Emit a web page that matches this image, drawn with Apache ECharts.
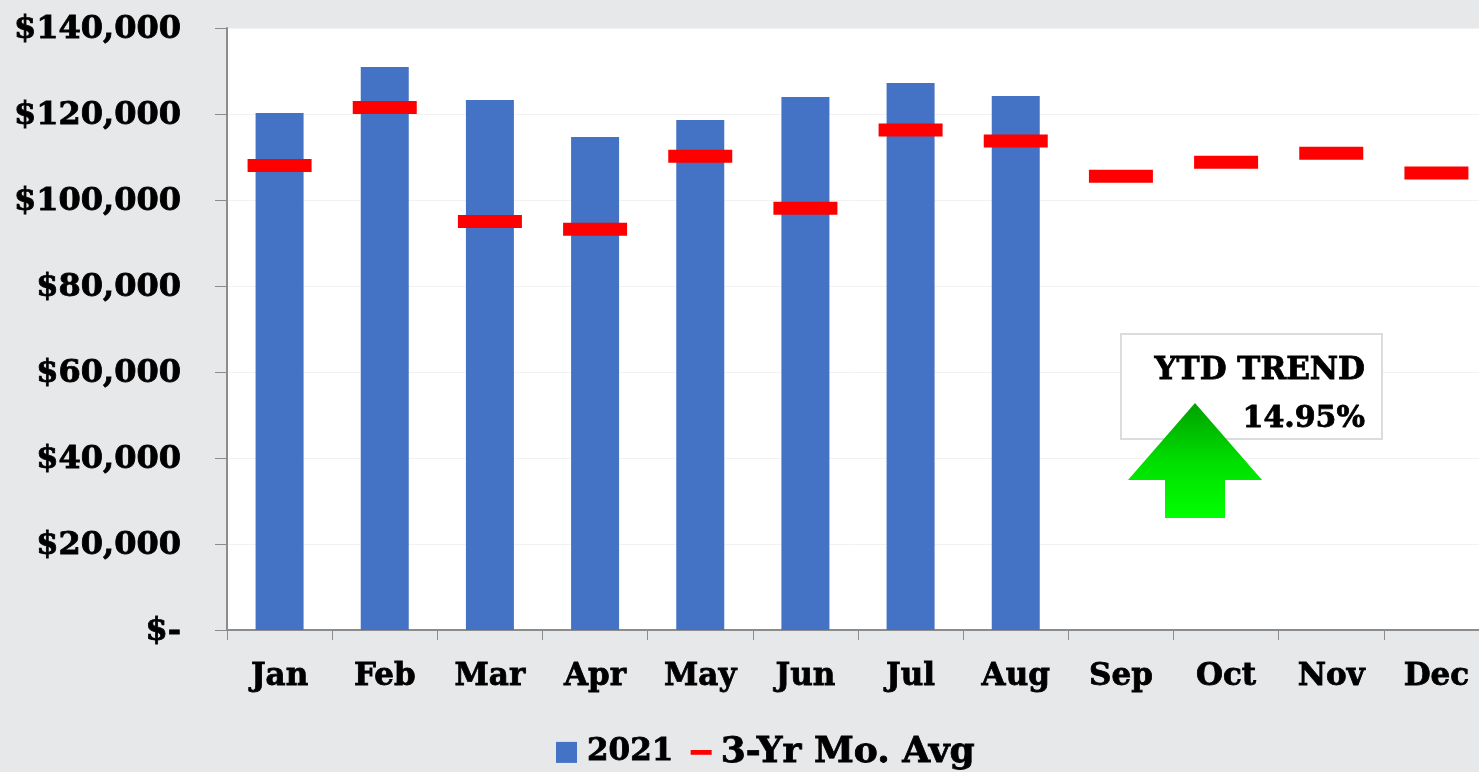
<!DOCTYPE html>
<html lang="en">
<head>
    <meta charset="UTF-8">
    <title>YTD Trend</title>
    <script src="https://cdn.jsdelivr.net/npm/echarts@6/dist/echarts.min.js"></script>
    <style>
        html, body { margin: 0; padding: 0; background: #e7e8ea; overflow: hidden; }
        #main { width: 1479px; height: 772px; }
    </style>
</head>
<body>
<div id="main"></div>
<script>
    var months = ['Jan', 'Feb', 'Mar', 'Apr', 'May', 'Jun', 'Jul', 'Aug', 'Sep', 'Oct', 'Nov', 'Dec'];
    var actual2021 = [120250, 130950, 123280, 114670, 118600, 123970, 127230, 124200, null, null, null, null];
    var threeYrAvg = [108000, 121500, 95000, 93200, 110200, 98100, 116300, 113700, 105500, 108800, 110900, 106300];
    var axisMax = 140000;
    var axisStep = 20000;

    var labelFont = '"DejaVu Serif"';
    // slab face in the original is heavier than DejaVu bold
    var heavy = { fontFamily: labelFont, fontWeight: 'bold', color: '#000', textBorderColor: '#000', textBorderWidth: 0.8 };
    var myChart = echarts.init(document.getElementById('main'));

    myChart.setOption({
        backgroundColor: '#e7e8ea',
        animation: false,
        grid: {
            left: 227, top: 28, width: 1262, height: 602,
            outerBoundsMode: 'none',
            show: true, backgroundColor: '#fff', borderWidth: 0
        },
        legend: {
            left: 551, top: 729,
            itemGap: 17, itemWidth: 21, itemHeight: 21,
            data: [
                {
                    name: '2021', icon: 'rect',
                    textStyle: Object.assign({ fontSize: 31, padding: [0, 0, 0, 5] }, heavy)
                },
                {
                    name: '3-Yr Mo. Avg', icon: 'path://M0 0H22V5H0Z',
                    textStyle: Object.assign({ fontSize: 36, padding: [0, 0, 0, 4] }, heavy)
                }
            ]
        },
        xAxis: {
            type: 'category',
            data: months,
            axisLine: { lineStyle: { color: '#8c8c8c', width: 2 } },
            axisTick: { show: true, length: 10, lineStyle: { color: '#8c8c8c', width: 1 } },
            axisLabel: Object.assign({ margin: 31, fontSize: 31 }, heavy)
        },
        yAxis: {
            type: 'value',
            min: 0,
            max: axisMax,
            interval: axisStep,
            axisLine: { show: true, lineStyle: { color: '#8c8c8c', width: 2 } },
            axisTick: { show: true, length: 12, lineStyle: { color: '#8c8c8c', width: 1 } },
            splitLine: { lineStyle: { color: '#f2f2f2', width: 1 } },
            axisLabel: Object.assign({
                margin: 46, fontSize: 32, verticalAlign: 'top', padding: [-14, 0, 0, 0],
                formatter: function (v) {
                    return v === 0 ? '$-' : '$' + v.toLocaleString('en-US');
                }
            }, heavy)
        },
        series: [
            {
                name: '2021',
                type: 'bar',
                data: actual2021,
                barWidth: 48,
                itemStyle: { color: '#4472c4' }
            },
            {
                name: '3-Yr Mo. Avg',
                type: 'scatter',
                data: threeYrAvg,
                symbol: 'rect',
                symbolSize: [64, 13],
                clip: false,
                z: 5,
                itemStyle: { color: '#ff0000', opacity: 1 }
            }
        ],
        graphic: [
            // YTD trend callout
            {
                type: 'rect', z: 10,
                shape: { x: 1121, y: 334, width: 261, height: 105 },
                style: { fill: '#fff', stroke: '#dcdcdc', lineWidth: 2 }
            },
            {
                type: 'text', z: 11, x: 1365, y: 371,
                style: {
                    text: 'YTD TREND', align: 'right', verticalAlign: 'middle',
                    fontFamily: labelFont, fontWeight: 'bold', fontSize: 31, fill: '#000',
                    stroke: '#000', lineWidth: 0.8
                }
            },
            {
                type: 'text', z: 11, x: 1365, y: 419,
                style: {
                    text: '14.95%', align: 'right', verticalAlign: 'middle',
                    fontFamily: labelFont, fontWeight: 'bold', fontSize: 30, fill: '#000',
                    stroke: '#000', lineWidth: 0.8
                }
            },
            {
                type: 'polygon', z: 12,
                shape: { points: [[1195, 403], [1262, 480], [1225, 480], [1225, 518], [1165, 518], [1165, 480], [1128, 480]] },
                style: {
                    fill: new echarts.graphic.LinearGradient(0, 0, 0, 1, [
                        { offset: 0, color: '#00a000' },
                        { offset: 0.5, color: '#00de00' },
                        { offset: 1, color: '#00ff00' }
                    ])
                }
            }
        ]
    });
</script>
</body>
</html>
